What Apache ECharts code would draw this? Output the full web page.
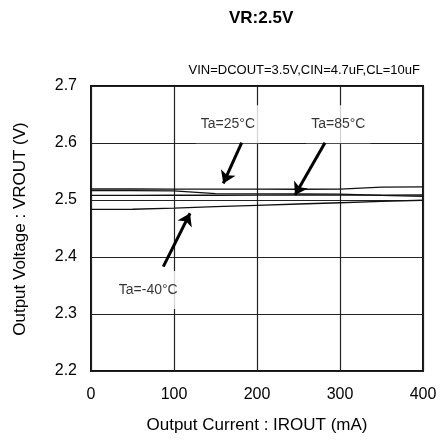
<!DOCTYPE html>
<html>
<head>
<meta charset="utf-8">
<script src="https://cdn.jsdelivr.net/npm/echarts@6/dist/echarts.min.js"></script>
<style>
html,body{margin:0;padding:0;background:#fff}
#chart{width:441px;height:441px}
</style>
</head>
<body>
<div id="chart"></div>
<script>
// Output current (mA) sampled along each curve
const loadCurrent = [0, 50, 100, 150, 200, 250, 300, 350, 400];
// Output voltage (V) per temperature trace
const voutUpper = [2.5193, 2.5193, 2.5192, 2.5190, 2.5190, 2.5189, 2.5192, 2.5226, 2.5230];
const voutTa25  = [2.5163, 2.5163, 2.5160, 2.5112, 2.5106, 2.5105, 2.5104, 2.5080, 2.5062];
const voutTa85  = [2.5082, 2.5082, 2.5083, 2.5083, 2.5084, 2.5085, 2.5086, 2.5087, 2.5088];
const voutTaM40 = [2.4836, 2.4838, 2.4858, 2.4884, 2.4906, 2.4930, 2.4952, 2.4975, 2.4996];

// Axis ranges
const xRange = [0, 400];
const xStep = 100;
const yRange = [2.2, 2.7];
const yStep = 0.1;

// Temperature callouts: text, label anchor, arrow tail and arrow head (data units)
const noteText = ['Ta=25°C', 'Ta=85°C', 'Ta=-40°C'];
const noteAt = [[165, 2.633], [298, 2.633], [69, 2.342]];
const arrowTail = [[181.6, 2.6005], [281.9, 2.6005], [87.1, 2.383]];
const arrowHead = [[159.4, 2.529], [245.8, 2.5088], [119.3, 2.4767]];

const FONT = 'Liberation Sans, Arial, sans-serif';
const toPairs = ys => loadCurrent.map((x, i) => [x, ys[i]]);

const curveStyle = {color: '#111', width: 1.3};
const curve = (name, ys) => ({
  name, type: 'line', data: toPairs(ys), showSymbol: false, symbol: 'none',
  lineStyle: curveStyle, silent: true, z: 3
});

const chart = echarts.init(document.getElementById('chart'), null, {renderer: 'canvas'});
chart.setOption({
  animation: false,
  backgroundColor: '#fff',
  graphic: [
    {type: 'text', left: 229, top: 10,
     style: {text: 'VR:2.5V', font: 'bold 17px ' + FONT, fill: '#000'}},
    {type: 'text', right: 21, top: 64,
     style: {text: 'VIN=DCOUT=3.5V,CIN=4.7uF,CL=10uF', font: '13px ' + FONT, fill: '#000'}},
    {type: 'text', x: 257, y: 425,
     style: {text: 'Output Current : IROUT (mA)', font: '17px ' + FONT, fill: '#000',
             textAlign: 'center', textVerticalAlign: 'middle'}},
    {type: 'text', x: 20, y: 229, rotation: Math.PI / 2,
     style: {text: 'Output Voltage : VROUT (V)', font: '17px ' + FONT, fill: '#000',
             textAlign: 'center', textVerticalAlign: 'middle'}}
  ],
  grid: {left: 91, right: 18, top: 86, bottom: 70, show: true,
         borderColor: '#111', borderWidth: 2, backgroundColor: 'transparent'},
  xAxis: {
    type: 'value', min: xRange[0], max: xRange[1], interval: xStep,
    axisLine: {show: false}, axisTick: {show: false},
    splitLine: {show: true, lineStyle: {color: '#222', width: 1.2}},
    axisLabel: {color: '#000', fontSize: 16, fontFamily: FONT, margin: 16}
  },
  yAxis: {
    type: 'value', min: yRange[0], max: yRange[1], interval: yStep,
    axisLine: {show: false}, axisTick: {show: false},
    splitLine: {show: true, lineStyle: {color: '#222', width: 1.2}},
    axisLabel: {color: '#000', fontSize: 16, fontFamily: FONT, margin: 14, align: 'right',
                formatter: v => v.toFixed(1)}
  },
  series: [
    curve('upper trace', voutUpper),
    curve('Ta=25°C', voutTa25),
    curve('Ta=85°C', voutTa85),
    curve('Ta=-40°C', voutTaM40),
    {
      name: 'callout labels', type: 'scatter', symbolSize: 1, silent: true, z: 4,
      itemStyle: {color: 'rgba(0,0,0,0)'},
      data: noteAt.map((p, i) => ({value: p, name: noteText[i]})),
      label: {show: true, position: 'inside', formatter: '{b}', color: '#000',
              fontSize: 14, fontFamily: FONT, backgroundColor: '#fff', padding: [12, 5]}
    },
    {
      name: 'callout arrows', type: 'lines', coordinateSystem: 'cartesian2d', silent: true, z: 5,
      symbol: ['none', 'arrow'], symbolSize: 12,
      lineStyle: {color: '#000', width: 3, opacity: 1, curveness: 0},
      data: arrowTail.map((t, i) => ({coords: [t, arrowHead[i]]}))
    }
  ]
});
</script>
</body>
</html>
